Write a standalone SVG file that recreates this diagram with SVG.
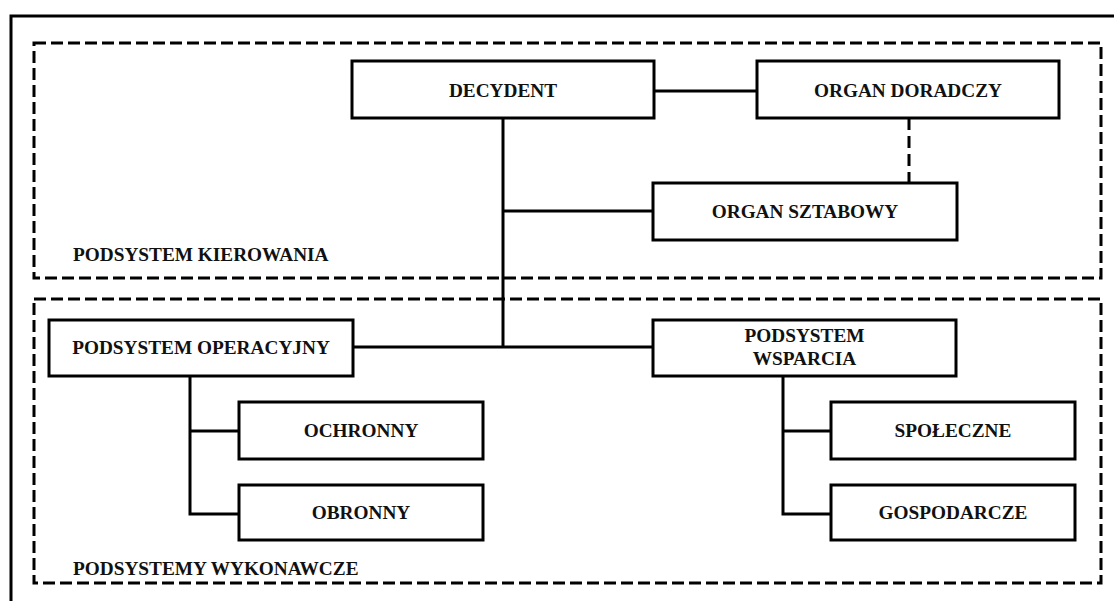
<svg xmlns="http://www.w3.org/2000/svg" width="1114" height="601" viewBox="0 0 1114 601">
  <style>
    .frame { fill: none; stroke: #000; stroke-width: 3; }
    .zone { fill: none; stroke: #000; stroke-width: 3; stroke-dasharray: 12 5; }
    .box { fill: #fff; stroke: #000; stroke-width: 3; }
    .link { fill: none; stroke: #000; stroke-width: 3; }
    .link-dashed { fill: none; stroke: #000; stroke-width: 3; stroke-dasharray: 12 6; }
    text { font-family: "Liberation Serif", "Times New Roman", serif; font-weight: bold; font-size: 19.3px; fill: #111; }
    .c { text-anchor: middle; }
  </style>

  <rect width="1114" height="601" fill="#fff"/>

  <!-- outer frame -->
  <path class="frame" d="M11,601 V16 H1114"/>

  <!-- subsystem zones -->
  <g id="zone-kierowania">
    <rect class="zone" x="34" y="43" width="1067" height="235"/>
    <text x="73" y="261">PODSYSTEM KIEROWANIA</text>
  </g>
  <g id="zone-wykonawcze">
    <rect class="zone" x="34" y="299" width="1067" height="284"/>
    <text x="73" y="575">PODSYSTEMY WYKONAWCZE</text>
  </g>

  <!-- connectors -->
  <g id="connectors">
    <path class="link" d="M654,91 H757"/>
    <path class="link" d="M503,118 V347"/>
    <path class="link" d="M503,211 H653"/>
    <path class="link" d="M353,347 H653"/>
    <path class="link-dashed" d="M909,118 V183"/>
    <path class="link" d="M190,376 V514 H239 M190,431 H239"/>
    <path class="link" d="M783,376 V514 H831 M783,431 H831"/>
  </g>

  <!-- nodes -->
  <g id="decydent">
    <rect class="box" x="352" y="61" width="302" height="57"/>
    <text class="c" x="503" y="97">DECYDENT</text>
  </g>
  <g id="organ-doradczy">
    <rect class="box" x="757" y="61" width="302" height="57"/>
    <text class="c" x="908" y="97">ORGAN DORADCZY</text>
  </g>
  <g id="organ-sztabowy">
    <rect class="box" x="653" y="183" width="304" height="57"/>
    <text class="c" x="805" y="218">ORGAN SZTABOWY</text>
  </g>
  <g id="podsystem-operacyjny">
    <rect class="box" x="49" y="320" width="304" height="56"/>
    <text class="c" x="201" y="354">PODSYSTEM OPERACYJNY</text>
  </g>
  <g id="podsystem-wsparcia">
    <rect class="box" x="653" y="320" width="303" height="56"/>
    <text class="c" x="804.5" y="342">PODSYSTEM</text>
    <text class="c" x="804.5" y="365">WSPARCIA</text>
  </g>
  <g id="ochronny">
    <rect class="box" x="239" y="402" width="244" height="57"/>
    <text class="c" x="361" y="437">OCHRONNY</text>
  </g>
  <g id="obronny">
    <rect class="box" x="239" y="485" width="244" height="55"/>
    <text class="c" x="361" y="519">OBRONNY</text>
  </g>
  <g id="spoleczne">
    <rect class="box" x="831" y="402" width="244" height="57"/>
    <text class="c" x="953" y="437">SPOŁECZNE</text>
  </g>
  <g id="gospodarcze">
    <rect class="box" x="831" y="485" width="244" height="55"/>
    <text class="c" x="953" y="519">GOSPODARCZE</text>
  </g>
</svg>
